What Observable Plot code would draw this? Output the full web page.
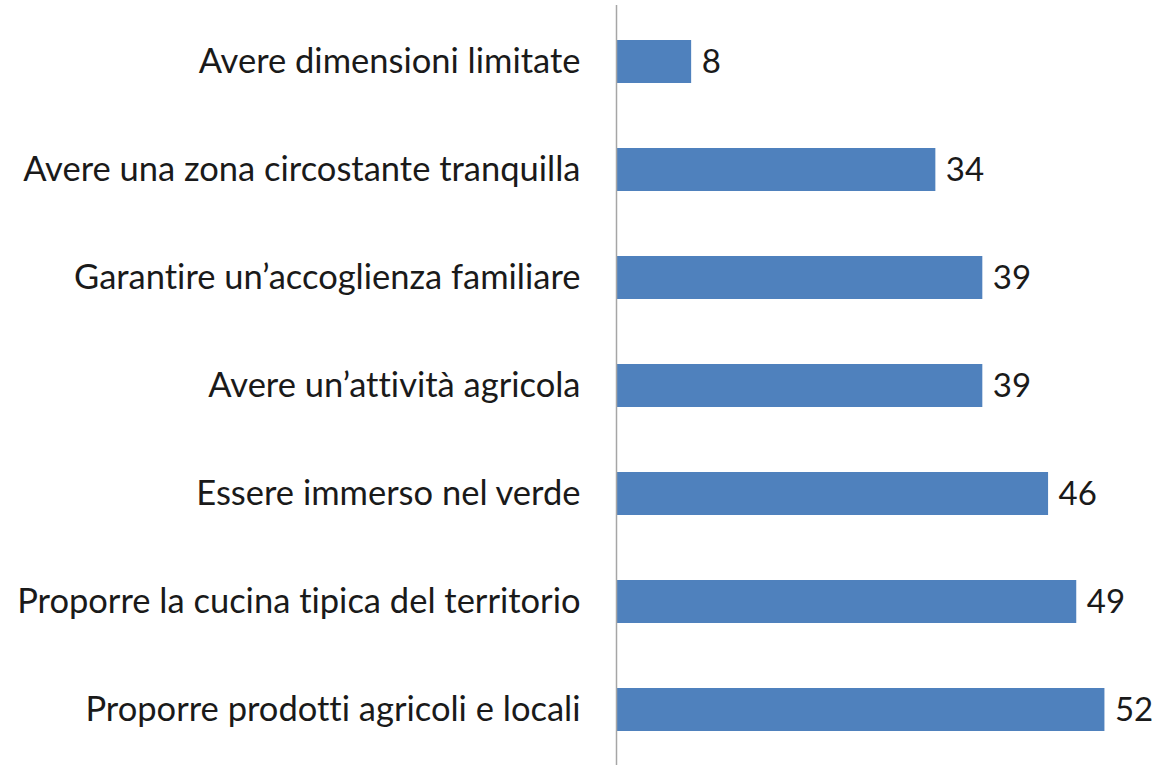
<!DOCTYPE html>
<html>
<head>
<meta charset="utf-8">
<script src="https://cdn.jsdelivr.net/npm/d3@7"></script>
<script src="https://cdn.jsdelivr.net/npm/@observablehq/plot@0.6"></script>
<style>
  html, body { margin: 0; padding: 0; background: #ffffff; }
  #chart svg { display: block; }
  #chart svg text { font-variant-ligatures: none; font-feature-settings: "liga" 0, "clig" 0; }
</style>
</head>
<body>
<div id="chart"></div>
<script>
const categories = [
  "Avere dimensioni limitate",
  "Avere una zona circostante tranquilla",
  "Garantire un’accoglienza familiare",
  "Avere un’attività agricola",
  "Essere immerso nel verde",
  "Proporre la cucina tipica del territorio",
  "Proporre prodotti agricoli e locali"
];
const values = [8, 34, 39, 39, 46, 49, 52];

const data = categories.map((c, i) => ({category: c, value: values[i]}));

const chart = Plot.plot({
  width: 1160,
  height: 765,
  marginTop: 7,
  marginBottom: 0,
  marginLeft: 616,
  marginRight: 18,
  style: {fontFamily: "Lato, 'Open Sans', sans-serif", fontSize: "34px", color: "#1a1a1a", background: "#ffffff"},
  x: {domain: [0, 56], axis: null},
  y: {domain: categories, paddingInner: 0.6, paddingOuter: 0.3, label: null, axis: null},
  marks: [
    Plot.barX(data, {x: "value", y: "category", fill: "#4F81BD"}),
    Plot.text(data, {x: "value", y: "category", text: d => String(d.value), textAnchor: "start", dx: 10, fill: "#1a1a1a", fontSize: 33}),
    Plot.ruleX([0], {stroke: "#a6a6a6", strokeWidth: 1.5, insetTop: -2}),
    Plot.axisY({tickSize: 0, tickPadding: 36, fontSize: 34.5, fill: "#1a1a1a", label: null})
  ]
});
document.getElementById("chart").appendChild(chart);
</script>
</body>
</html>
